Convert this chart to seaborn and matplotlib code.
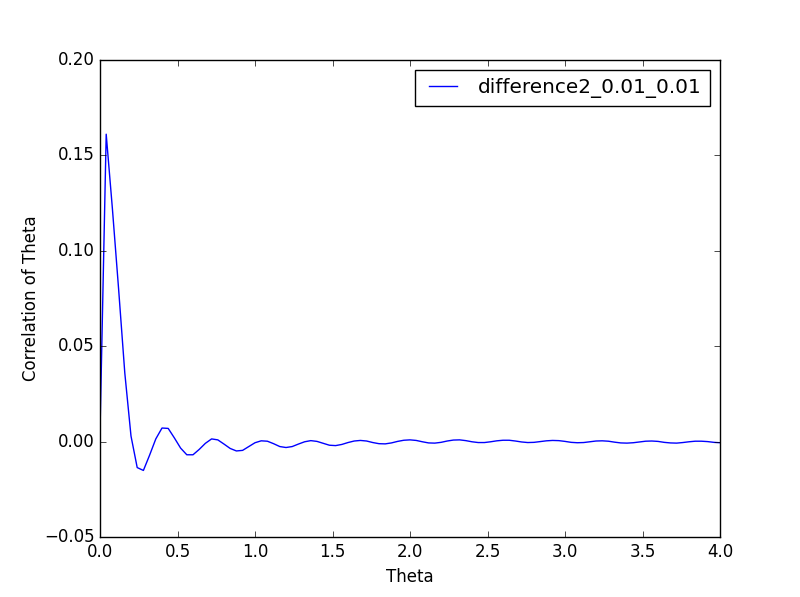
import numpy as np
import matplotlib
matplotlib.use("Agg")
import matplotlib.pyplot as plt
import seaborn as sns

plt.style.use("classic")
plt.rcParams["figure.facecolor"] = "white"
plt.rcParams["savefig.facecolor"] = "white"

theta = [round(0.04 * i, 2) for i in range(101)]
corr = [
    0.005, 0.161, 0.122, 0.080, 0.036, 0.003, -0.0135, -0.015, -0.007, 0.0015,
    0.0072, 0.0070, 0.0020, -0.0033, -0.0068, -0.0068, -0.0040, -0.0008, 0.0015, 0.0010,
    -0.0012, -0.0035, -0.0048, -0.0045, -0.0025, -0.0005, 0.0005, 0.0003, -0.0010, -0.0025,
    -0.0030, -0.0025, -0.0012, 0.0000, 0.0006, 0.0002, -0.0008, -0.0018, -0.0020, -0.0014,
    -0.0004, 0.0004, 0.0007, 0.0004, -0.0004, -0.0010, -0.0011, -0.0006, 0.0002, 0.0008,
    0.0010, 0.0007, 0.0000, -0.0006, -0.0007, -0.0003, 0.0004, 0.0009, 0.0010, 0.0006,
    0.0000, -0.0004, -0.0004, 0.0000, 0.0005, 0.0008, 0.0008, 0.0004, -0.0001, -0.0004,
    -0.0003, 0.0001, 0.0005, 0.0007, 0.0006, 0.0002, -0.0003, -0.0005, -0.0004, 0.0000,
    0.0004, 0.0005, 0.0003, -0.0002, -0.0006, -0.0007, -0.0005, -0.0001, 0.0003, 0.0004,
    0.0002, -0.0003, -0.0006, -0.0007, -0.0004, 0.0000, 0.0003, 0.0003, 0.0001, -0.0003,
    -0.0005,
]
series_label = "difference2_0.01_0.01"

fig, ax = plt.subplots(figsize=(8, 5.97), dpi=100)
fig.subplots_adjust(left=0.125, right=0.9, bottom=0.1, top=0.9)
sns.lineplot(x=theta, y=corr, ax=ax, color="b", linewidth=1.0,
             label=series_label, estimator=None)
ax.set_xlim(0, 4.0)
ax.set_ylim(-0.05, 0.20)
ax.set_xticks([0.0, 0.5, 1.0, 1.5, 2.0, 2.5, 3.0, 3.5, 4.0])
ax.set_yticks([-0.05, 0.0, 0.05, 0.10, 0.15, 0.20])
ax.set_xlabel("Theta")
ax.set_ylabel("Correlation of Theta", labelpad=3)
ax.legend(loc="upper right", handletextpad=0.75)
fig.savefig("out.png", dpi=100)
